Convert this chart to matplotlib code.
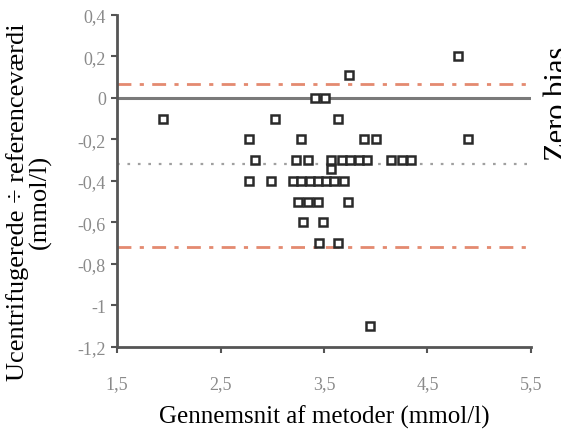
import matplotlib
matplotlib.use("Agg")
import matplotlib.pyplot as plt
from matplotlib.ticker import FixedLocator

plt.rcParams['font.family'] = ['Liberation Serif', 'DejaVu Serif']

# gennemsnit af metoder (x) og forskel (y)
gennemsnit = [1.94, 3.03, 3.64,
              3.41, 3.51, 3.74, 4.79,
              2.78, 3.28, 3.89, 4.00, 4.89,
              2.83, 3.23, 3.35, 3.57, 3.67, 3.75, 3.84, 3.92, 4.15, 4.25, 4.34, 3.57,
              2.78, 2.99, 3.20, 3.28, 3.36, 3.44, 3.52, 3.60, 3.69,
              3.25, 3.35, 3.44, 3.73,
              3.30, 3.49, 3.45, 3.64, 3.94]
forskel = [-0.1, -0.1, -0.1,
           0.0, 0.0, 0.11, 0.2,
           -0.2, -0.2, -0.2, -0.2, -0.2,
           -0.3, -0.3, -0.3, -0.3, -0.3, -0.3, -0.3, -0.3, -0.3, -0.3, -0.3, -0.34,
           -0.4, -0.4, -0.4, -0.4, -0.4, -0.4, -0.4, -0.4, -0.4,
           -0.5, -0.5, -0.5, -0.5,
           -0.6, -0.6, -0.7, -0.7, -1.1]

bias = -0.32
graense_oevre = 0.066
graense_nedre = -0.72

y_ticks = [0.4, 0.2, 0, -0.2, -0.4, -0.6, -0.8, -1, -1.2]
y_labels = ["0,4", "0,2", "0", "-0,2", "-0,4", "-0,6", "-0,8", "-1", "-1,2"]
x_ticks = [1.5, 2.5, 3.5, 4.5, 5.5]
x_labels = ["1,5", "2,5", "3,5", "4,5", "5,5"]

fig = plt.figure(figsize=(5.61, 4.31), dpi=100)
ax = fig.add_axes([0.2086, 0.1926, 0.7379, 0.7703])

red = '#e48a70'
ax.axhline(graense_oevre, color=red, lw=2, dashes=(5, 3, 1.5, 3), zorder=1)
ax.axhline(graense_nedre, color=red, lw=2, dashes=(5, 3, 1.5, 3), zorder=1)
ax.axhline(0, color='#7a7a7a', lw=2.2, zorder=1)
ax.axhline(bias, color='#a0a0a0', lw=1.6, dashes=(1.2, 3.5), zorder=1)

ax.plot(gennemsnit, forskel, ls='none', marker='s', ms=5.6, mfc='white',
        mec='#2a2a2a', mew=1.8, zorder=3)

ax.set_xlim(1.5, 5.5)
ax.set_ylim(-1.2, 0.4)
ax.xaxis.set_major_locator(FixedLocator(x_ticks))
ax.yaxis.set_major_locator(FixedLocator(y_ticks))
ax.set_xticklabels(x_labels)
ax.set_yticklabels(y_labels)

for s in ['top', 'right']:
    ax.spines[s].set_visible(False)
for s in ['left', 'bottom']:
    ax.spines[s].set_color('#555555')
    ax.spines[s].set_linewidth(2)
ax.tick_params(axis='both', colors='#555555', width=1.5, length=4,
               labelsize=13, labelcolor='#8a8a8a')
ax.tick_params(axis='x', pad=16)
ax.tick_params(axis='y', pad=4)

ax.set_xlabel("Gennemsnit af metoder (mmol/l)", fontsize=18, labelpad=9)
ax.set_ylabel("Ucentrifugerede ÷ referenceværdi\n(mmol/l)", fontsize=19,
              linespacing=1.0)
ax.yaxis.set_label_coords(-0.157, 0.44)

fig.text(544 / 561, 1 - 104 / 431, "Zero bias", rotation=90, fontsize=22,
         ha='left', va='center')

fig.savefig("out.png", dpi=100)
